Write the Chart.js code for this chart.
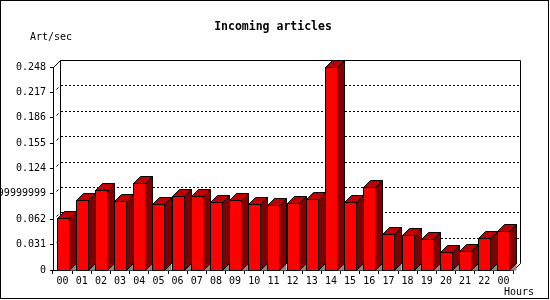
<!DOCTYPE html>
<html>
<head>
<meta charset="utf-8">
<script src="https://cdn.jsdelivr.net/npm/chart.js@4/dist/chart.umd.min.js"></script>
<style>
body { margin: 0; background: #fff; }
#wrap { width: 550px; height: 300px; }
</style>
</head>
<body>
<div id="wrap"><canvas id="chart" width="550" height="300"></canvas></div>
<script>
// hourly categories (last one wraps back to 00)
const hours = ['00', '01', '02', '03', '04', '05', '06', '07', '08', '09', '10', '11',
               '12', '13', '14', '15', '16', '17', '18', '19', '20', '21', '22', '00'];
// incoming articles per second
const articles = [0.0633, 0.0853, 0.0976, 0.0845, 0.1066, 0.0808, 0.0902, 0.0902,
                  0.0833, 0.0853, 0.0808, 0.0792, 0.0821, 0.0866, 0.248, 0.0829,
                  0.1013, 0.0437, 0.0425, 0.0376, 0.0217, 0.0229, 0.0392, 0.0478];
// y ticks and their printed labels
const yTicks = [0, 0.031, 0.062, 0.093, 0.124, 0.155, 0.186, 0.217, 0.248];
const yTickLabels = ['0', '0.031', '0.062', '0.09299999999999999', '0.124', '0.155', '0.186', '0.217', '0.248'];

const DEPTH = 7;
const MONO = '"DejaVu Sans Mono", monospace';

function px(v) { return Math.round(v) + 0.5; }

// draws the back wall, dashed grid, 3D bars and the texts
const bars3d = {
    id: 'bars3d',
    beforeDraw(chart) {
        const ctx = chart.ctx;
        ctx.save();
        ctx.fillStyle = '#fff';
        ctx.fillRect(0, 0, chart.width, chart.height);
        ctx.restore();
    },
    afterDraw(chart) {
        const { ctx, chartArea: a } = chart;
        const yScale = chart.scales.y;
        const D = DEPTH;
        const L = Math.round(a.left), R = Math.round(a.right);
        const T = Math.round(a.top), B = Math.round(a.bottom);

        ctx.save();
        ctx.strokeStyle = '#000';
        ctx.lineWidth = 1;

        // back wall
        ctx.beginPath();
        ctx.moveTo(px(L + D), px(B - D));
        ctx.lineTo(px(L + D), px(T - D));
        ctx.lineTo(px(R + D), px(T - D));
        ctx.lineTo(px(R + D), px(B - D));
        ctx.moveTo(L + 0.5, T + 0.5);
        ctx.lineTo(L + D + 0.5, T - D + 0.5);
        ctx.moveTo(R + 0.5, B + 0.5);
        ctx.lineTo(R + D + 0.5, B - D + 0.5);
        ctx.stroke();

        // dashed grid on the back wall
        ctx.setLineDash([2, 2]);
        ctx.beginPath();
        yTicks.slice(1, -1).forEach(v => {
            const yy = px(yScale.getPixelForValue(v) - D);
            ctx.moveTo(L + D + 1, yy);
            ctx.lineTo(R + D, yy);
        });
        ctx.stroke();
        ctx.setLineDash([]);

        // little depth marks
        ctx.beginPath();
        yTicks.slice(1, -1).forEach(v => {
            const yy = Math.round(yScale.getPixelForValue(v));
            ctx.moveTo(L + 3.5, yy - 2.5);
            ctx.lineTo(L + 5.5, yy - 4.5);
        });
        ctx.stroke();

        // 3D bars
        const meta = chart.getDatasetMeta(0);
        meta.data.forEach(bar => {
            const p = bar.getProps(['x', 'y', 'base', 'width'], true);
            const x0 = Math.round(p.x - p.width / 2) + 0.5;
            const x1 = Math.round(p.x + p.width / 2) + 0.5;
            const y0 = Math.round(p.y) + 0.5;
            const y1 = Math.round(p.base) + 0.5;

            // floor shadow
            ctx.fillStyle = '#888';
            ctx.beginPath();
            ctx.moveTo(x1, y1);
            ctx.lineTo(x1 + D, y1 - D);
            ctx.lineTo(x1 + D, y1);
            ctx.closePath();
            ctx.fill();

            // side
            ctx.fillStyle = '#800000';
            ctx.beginPath();
            ctx.moveTo(x1, y0);
            ctx.lineTo(x1 + D, y0 - D);
            ctx.lineTo(x1 + D, y1 - D);
            ctx.lineTo(x1, y1);
            ctx.closePath();
            ctx.fill();
            ctx.stroke();

            // top
            ctx.fillStyle = '#c00000';
            ctx.beginPath();
            ctx.moveTo(x0, y0);
            ctx.lineTo(x0 + D, y0 - D);
            ctx.lineTo(x1 + D, y0 - D);
            ctx.lineTo(x1, y0);
            ctx.closePath();
            ctx.fill();
            ctx.stroke();

            // front
            ctx.fillStyle = '#ff0000';
            ctx.fillRect(x0, y0, x1 - x0, y1 - y0);
            ctx.strokeRect(x0, y0, x1 - x0, y1 - y0);
        });

        // texts
        ctx.fillStyle = '#000';
        ctx.textBaseline = 'middle';
        ctx.textAlign = 'center';
        ctx.font = 'bold 11.5px ' + MONO;
        ctx.fillText('Incoming articles', 273, 27);
        ctx.textAlign = 'left';
        ctx.font = '10px ' + MONO;
        ctx.fillText('Art/sec', 30, 37);
        ctx.fillText('Hours', 504, 292);

        // outer frame
        ctx.strokeRect(0.5, 0.5, 548, 298);
        ctx.restore();
    }
};

new Chart(document.getElementById('chart'), {
    type: 'bar',
    data: {
        labels: hours,
        datasets: [{
            label: 'Art/sec',
            data: articles,
            backgroundColor: 'rgba(0,0,0,0)',
            borderWidth: 0,
            categoryPercentage: 1,
            barPercentage: 0.62,
        }]
    },
    options: {
        responsive: false,
        animation: false,
        devicePixelRatio: 1,
        events: [],
        layout: { padding: { left: 0, top: 67, right: 37, bottom: 0 } },
        plugins: {
            legend: { display: false },
            title: { display: false },
            tooltip: { enabled: false },
        },
        scales: {
            x: {
                grid: { drawOnChartArea: false, tickLength: 4, color: '#000' },
                border: { color: '#000' },
                ticks: {
                    color: '#000',
                    font: { family: MONO, size: 10 },
                    maxRotation: 0,
                    autoSkip: false,
                    padding: 1,
                },
                afterFit: s => { s.height = 30; },
            },
            y: {
                min: 0,
                max: 0.248,
                afterBuildTicks: s => { s.ticks = yTicks.map(v => ({ value: v })); },
                grid: { drawOnChartArea: false, tickLength: 3, color: '#000' },
                border: { color: '#000' },
                ticks: {
                    color: '#000',
                    font: { family: MONO, size: 10 },
                    padding: 4,
                    callback: (v, i) => yTickLabels[i],
                },
                afterFit: s => { s.width = 53; },
            }
        }
    },
    plugins: [bars3d]
});
</script>
</body>
</html>
